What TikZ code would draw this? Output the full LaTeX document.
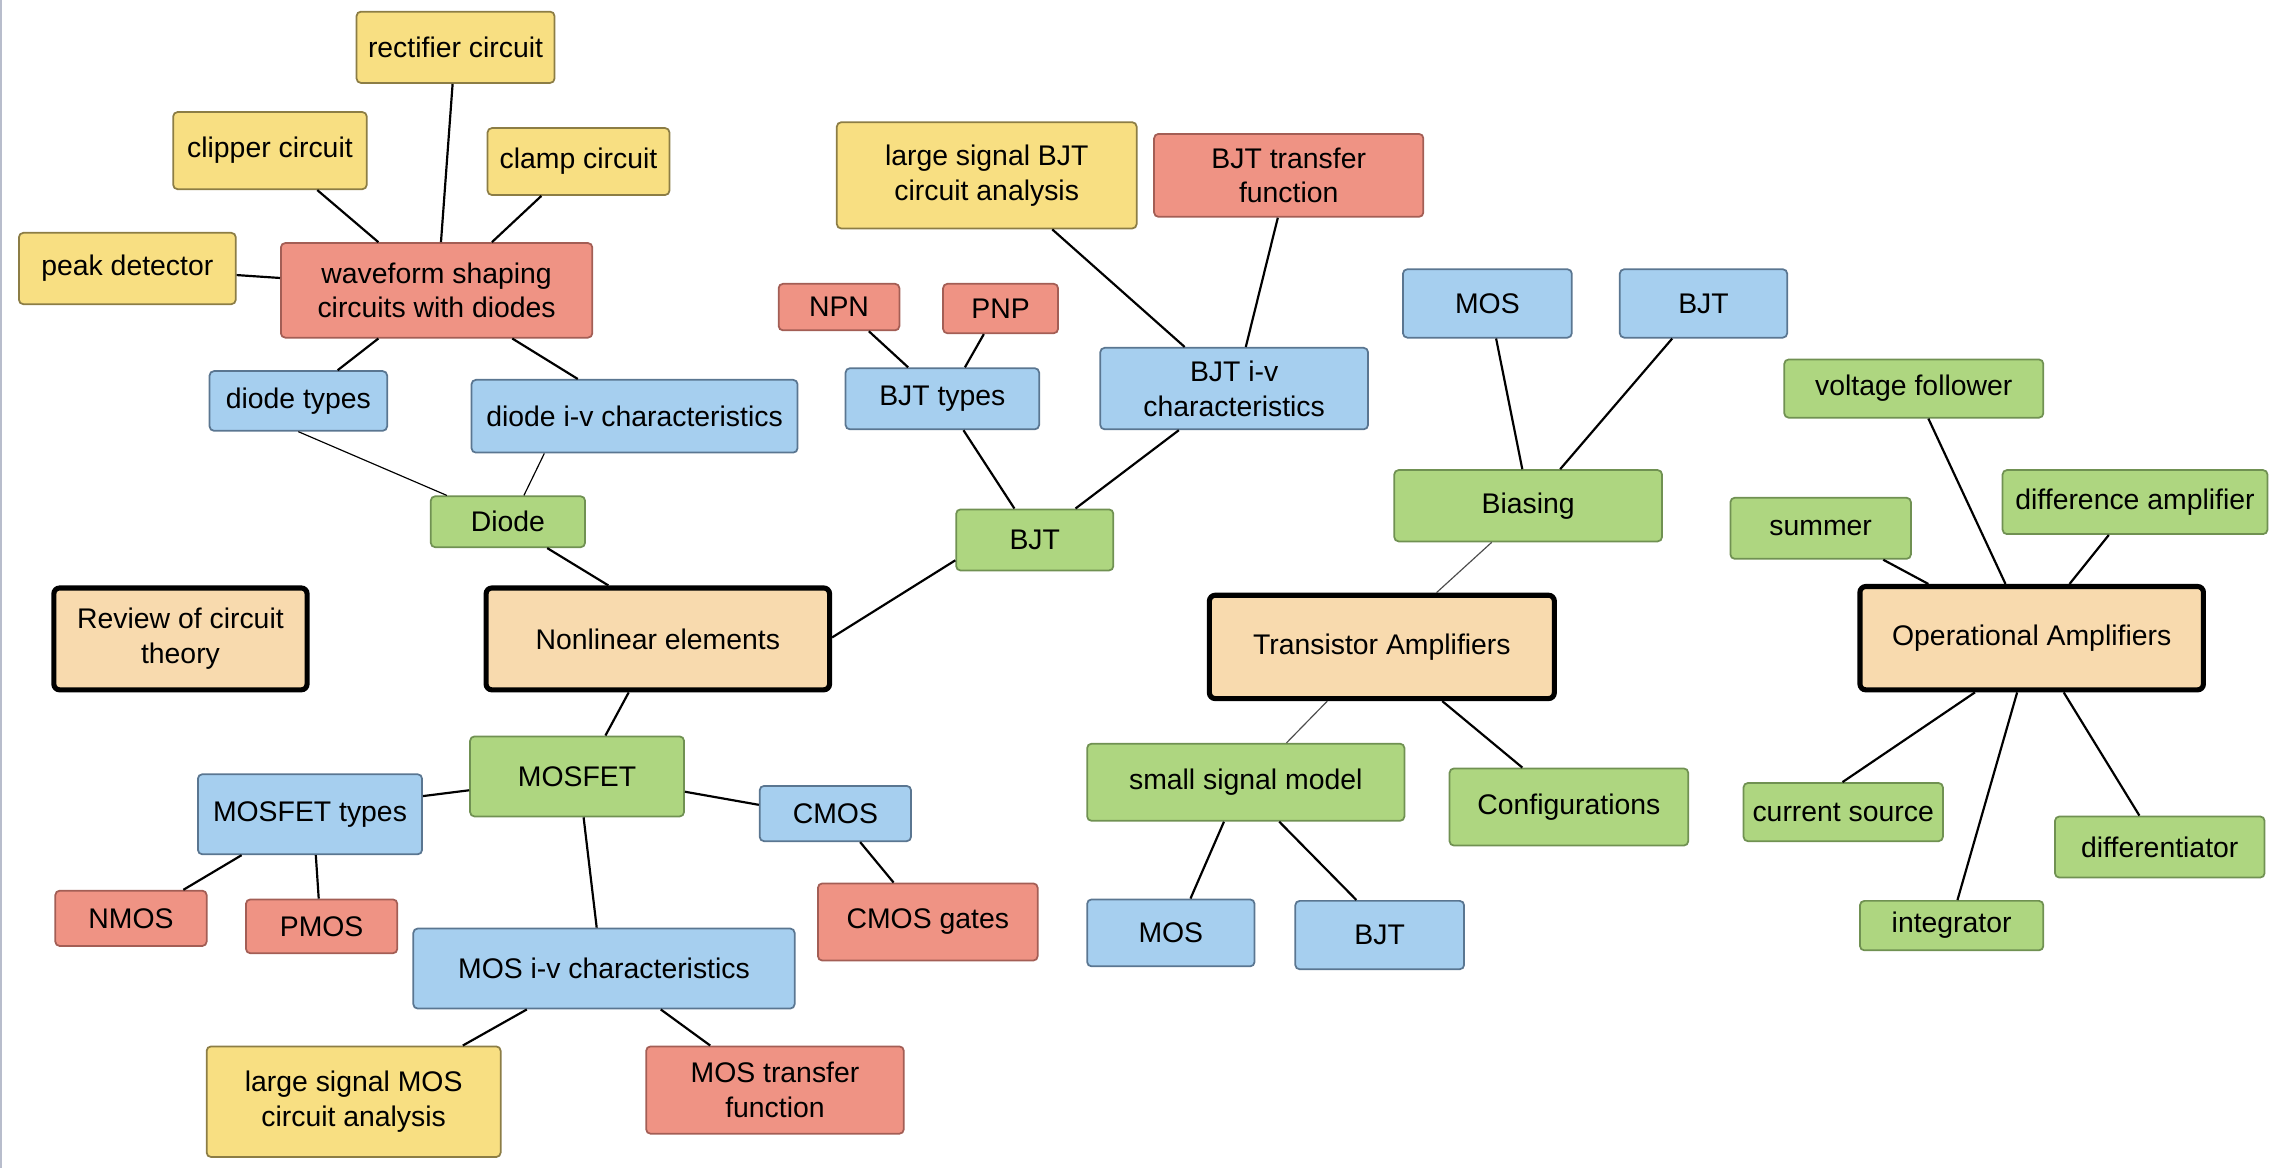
\documentclass[tikz,border=0pt]{standalone}
\usepackage{fontspec}
\setmainfont{Liberation Sans}
\usepackage{xcolor}
\usepackage{tikz}

\definecolor{yelfill}{RGB}{248,223,130}
\definecolor{yeldraw}{RGB}{140,125,69}
\definecolor{redfill}{RGB}{239,147,132}
\definecolor{reddraw}{RGB}{163,94,85}
\definecolor{bluefill}{RGB}{166,207,239}
\definecolor{bluedraw}{RGB}{90,118,145}
\definecolor{grnfill}{RGB}{174,214,128}
\definecolor{grndraw}{RGB}{112,145,82}
\definecolor{mainfill}{RGB}{248,218,174}
\definecolor{edgegray}{RGB}{184,189,204}

\tikzset{
    box/.style={draw, rounded corners=3pt, line width=1.2pt, align=center, inner sep=0pt,
        font=\fontsize{19.5}{24}\selectfont},
    yelbox/.style={box, fill=yelfill, draw=yeldraw},
    redbox/.style={box, fill=redfill, draw=reddraw},
    blubox/.style={box, fill=bluefill, draw=bluedraw},
    grnbox/.style={box, fill=grnfill, draw=grndraw},
    topic/.style={box, fill=mainfill, draw=black, line width=3.5pt, rounded corners=4pt},
    conn/.style={line width=1.5pt},
    thinconn/.style={line width=0.8pt},
    faint/.style={line width=0.8pt, draw=black!70},
}

\begin{document}
\begin{tikzpicture}[x=1pt, y=-1pt]
    \useasboundingbox (0,0) rectangle (1568,802.5);
    \draw[edgegray, line width=1.2pt] (0.6,0) -- (0.6,802.5);
    % Topics
    \node[topic, minimum width=174pt, minimum height=70pt] (review) at (124,439) {Review of circuit\\theory};
    \node[topic, minimum width=236pt, minimum height=70pt] (nonlin) at (452,439) {Nonlinear elements};
    \node[topic, minimum width=237pt, minimum height=71pt] (trans) at (949.5,444.5) {Transistor Amplifiers};
    \node[topic, minimum width=236pt, minimum height=71pt] (opamp) at (1396,438.5) {Operational Amplifiers};
    % Diode branch
    \node[grnbox, minimum width=106pt, minimum height=35pt] (diode) at (349,358.5) {Diode};
    \node[blubox, minimum width=122pt, minimum height=41pt] (dtypes) at (205,275.5) {diode types};
    \node[blubox, minimum width=224pt, minimum height=50pt] (div) at (436,286) {diode i-v characteristics};
    \node[redbox, minimum width=214pt, minimum height=65pt] (wave) at (300,199.5) {waveform shaping\\circuits with diodes};
    \node[yelbox, minimum width=136pt, minimum height=49pt] (rect) at (313,32.5) {rectifier circuit};
    \node[yelbox, minimum width=133pt, minimum height=53pt] (clip) at (185.5,103.5) {clipper circuit};
    \node[yelbox, minimum width=125pt, minimum height=46pt] (clamp) at (397.5,111) {clamp circuit};
    \node[yelbox, minimum width=149pt, minimum height=49pt] (peak) at (87.5,184.5) {peak detector};
    % MOSFET branch
    \node[grnbox, minimum width=147pt, minimum height=55pt] (mosfet) at (396.5,533.5) {MOSFET};
    \node[blubox, minimum width=154pt, minimum height=55pt] (mtypes) at (213,559.5) {MOSFET types};
    \node[blubox, minimum width=104pt, minimum height=38pt] (cmos) at (574,559) {CMOS};
    \node[redbox, minimum width=104pt, minimum height=38pt] (nmos) at (90,631) {NMOS};
    \node[redbox, minimum width=104pt, minimum height=37pt] (pmos) at (221,636.5) {PMOS};
    \node[redbox, minimum width=151pt, minimum height=53pt] (cgates) at (637.5,633.5) {CMOS gates};
    \node[blubox, minimum width=262pt, minimum height=55pt] (miv) at (415,665.5) {MOS i-v characteristics};
    \node[yelbox, minimum width=202pt, minimum height=76pt] (lmos) at (243,757) {large signal MOS\\circuit analysis};
    \node[redbox, minimum width=177pt, minimum height=60pt] (mtf) at (532.5,749) {MOS transfer\\function};
    % BJT branch
    \node[grnbox, minimum width=108pt, minimum height=42pt] (bjt) at (711,371) {BJT};
    \node[blubox, minimum width=133pt, minimum height=42pt] (btypes) at (647.5,274) {BJT types};
    \node[blubox, minimum width=184pt, minimum height=56pt] (biv) at (848,267) {BJT i-v\\characteristics};
    \node[redbox, minimum width=83pt, minimum height=32pt] (npn) at (576.5,211) {NPN};
    \node[redbox, minimum width=79pt, minimum height=34pt] (pnp) at (687.5,212) {PNP};
    \node[yelbox, minimum width=206pt, minimum height=73pt] (lbjt) at (678,120.5) {large signal BJT\\circuit analysis};
    \node[redbox, minimum width=185pt, minimum height=57pt] (btf) at (885.5,120.5) {BJT transfer\\function};
    % Transistor amplifier branch
    \node[grnbox, minimum width=184pt, minimum height=49pt] (bias) at (1050,347.5) {Biasing};
    \node[blubox, minimum width=116pt, minimum height=47pt] (bmos) at (1022,208.5) {MOS};
    \node[blubox, minimum width=115pt, minimum height=47pt] (bbjt) at (1170.5,208.5) {BJT};
    \node[grnbox, minimum width=218pt, minimum height=53pt] (ssm) at (856,537.5) {small signal model};
    \node[grnbox, minimum width=164pt, minimum height=53pt] (conf) at (1078,554.5) {Configurations};
    \node[blubox, minimum width=115pt, minimum height=46pt] (smos) at (804.5,641) {MOS};
    \node[blubox, minimum width=116pt, minimum height=47pt] (sbjt) at (948,642.5) {BJT};
    % Op amp branch
    \node[grnbox, minimum width=178pt, minimum height=40pt] (vf) at (1315,267) {voltage follower};
    \node[grnbox, minimum width=182pt, minimum height=44pt] (diff) at (1467,345) {difference amplifier};
    \node[grnbox, minimum width=124pt, minimum height=42pt] (summer) at (1251,363) {summer};
    \node[grnbox, minimum width=137pt, minimum height=40pt] (csrc) at (1266.5,558) {current source};
    \node[grnbox, minimum width=144pt, minimum height=42pt] (dtor) at (1484,582) {differentiator};
    \node[grnbox, minimum width=126pt, minimum height=34pt] (integ) at (1341,636) {integrator};
    % Edges
    % waveform shaping circuits
    \draw[conn] ([xshift=-2pt]rect.south) -- ([xshift=3pt]wave.north);
    \draw[conn] ([xshift=32.5pt]clip.south) -- ([xshift=-40pt]wave.north);
    \draw[conn] ([xshift=-25.5pt]clamp.south) -- ([xshift=38pt]wave.north);
    \draw[conn] ([yshift=-4.5pt]peak.east) -- ([yshift=8.5pt]wave.west);
    \draw[conn] ([xshift=-40pt]wave.south) -- ([xshift=27pt]dtypes.north);
    \draw[conn] ([xshift=52pt]wave.south) -- ([xshift=-39pt]div.north);
    % Diode
    \draw[thinconn] (dtypes.south) -- ([xshift=-42pt]diode.north);
    \draw[thinconn] ([xshift=-62pt]div.south) -- ([xshift=11pt]diode.north);
    \draw[conn] ([xshift=27pt]diode.south) -- ([xshift=-34pt]nonlin.north);
    % Nonlinear elements to BJT and MOSFET
    \draw[conn] ([yshift=1pt]nonlin.east) -- ([yshift=-14pt]bjt.west);
    \draw[conn] ([xshift=-20pt]nonlin.south) -- ([xshift=19.5pt]mosfet.north);
    % MOSFET
    \draw[conn] ([yshift=-9.5pt]mosfet.west) -- ([yshift=12.5pt]mtypes.east);
    \draw[conn] ([yshift=-10.5pt]mosfet.east) -- ([yshift=6pt]cmos.west);
    \draw[conn] ([xshift=4.5pt]mosfet.south) -- ([xshift=-5pt]miv.north);
    \draw[conn] ([xshift=-47pt]mtypes.south) -- ([xshift=36pt]nmos.north);
    \draw[conn] ([xshift=4pt]mtypes.south) -- ([xshift=-2pt]pmos.north);
    \draw[conn] ([xshift=17pt]cmos.south) -- ([xshift=-23.5pt]cgates.north);
    \draw[conn] ([xshift=-53pt]miv.south) -- ([xshift=75pt]lmos.north);
    \draw[conn] ([xshift=39pt]miv.south) -- ([xshift=-44.5pt]mtf.north);
    % BJT
    \draw[conn] ([xshift=-14pt]bjt.north) -- ([xshift=14.5pt]btypes.south);
    \draw[conn] ([xshift=28pt]bjt.north) -- ([xshift=-38pt]biv.south);
    \draw[conn] ([xshift=-23.5pt]btypes.north) -- ([xshift=20.5pt]npn.south);
    \draw[conn] ([xshift=15.5pt]btypes.north) -- ([xshift=-11.5pt]pnp.south);
    \draw[conn] ([xshift=-34pt]biv.north) -- ([xshift=45pt]lbjt.south);
    \draw[conn] ([xshift=8pt]biv.north) -- ([xshift=-7.5pt]btf.south);
    % Transistor Amplifiers
    \draw[conn] ([xshift=-4pt]bias.north) -- ([xshift=6pt]bmos.south);
    \draw[conn] ([xshift=22pt]bias.north) -- ([xshift=-21.5pt]bbjt.south);
    \draw[faint] ([xshift=-25pt]bias.south) -- ([xshift=37.5pt]trans.north);
    \draw[faint] ([xshift=-37.5pt]trans.south) -- ([xshift=28pt]ssm.north);
    \draw[conn] ([xshift=41.5pt]trans.south) -- ([xshift=-32pt]conf.north);
    \draw[conn] ([xshift=-15pt]ssm.south) -- ([xshift=13.5pt]smos.north);
    \draw[conn] ([xshift=23pt]ssm.south) -- ([xshift=-16pt]sbjt.north);
    % Operational Amplifiers
    \draw[conn] ([xshift=-18pt]opamp.north) -- ([xshift=10pt]vf.south);
    \draw[conn] ([xshift=26pt]opamp.north) -- ([xshift=-18pt]diff.south);
    \draw[conn] ([xshift=-71pt]opamp.north) -- ([xshift=43pt]summer.south);
    \draw[conn] ([xshift=-39pt]opamp.south) -- ([xshift=-0.5pt]csrc.north);
    \draw[conn] ([xshift=-10pt]opamp.south) -- ([xshift=4pt]integ.north);
    \draw[conn] ([xshift=22pt]opamp.south) -- ([xshift=-14pt]dtor.north);
\end{tikzpicture}
\end{document}
